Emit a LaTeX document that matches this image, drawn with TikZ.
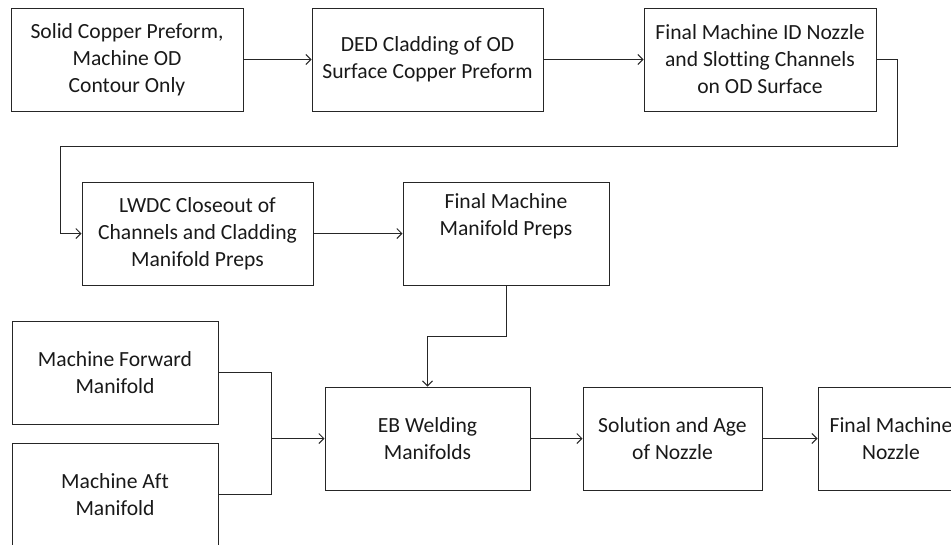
\documentclass[tikz,border=0pt]{standalone}
\usepackage{fontspec}
\setmainfont{Carlito}[Ligatures=NoCommon]
\usetikzlibrary{arrows.meta}
\begin{document}
\begin{tikzpicture}[x=1pt,y=-1pt,
  box/.style={draw=black!85,line width=1pt,inner sep=0pt,align=center,
    font=\fontsize{21.6}{27}\selectfont,text=black!90},
  conn/.style={draw=black!85,line width=1pt},
  arr/.style={conn,-{Straight Barb[length=5pt,width=10pt,line width=1pt]}}]
\useasboundingbox (0,0) rectangle (951,544);
\clip (0,0) rectangle (951,544);
% boxes: (left,top) to (right,bottom)
\node[box,minimum width=232pt,minimum height=103pt] (b1) at (127,59.5) {Solid Copper Preform,\\Machine OD\\Contour Only};
\node[box,minimum width=231pt,minimum height=103pt] (b2) at (427.5,59.5) {DED Cladding of OD\\Surface Copper Preform};
\node[box,minimum width=232pt,minimum height=103pt] (b3) at (760,59.5) {Final Machine ID Nozzle\\and Slotting Channels\\on OD Surface};
\node[box,minimum width=231pt,minimum height=103pt] (b4) at (197.5,233.5) {LWDC Closeout of\\Channels and Cladding\\Manifold Preps};
\node[box,minimum width=206pt,minimum height=103pt,text depth=38pt] (b5) at (506,233.5) {Final Machine\\Manifold Preps};
\node[box,minimum width=206pt,minimum height=103pt] (fwd) at (115,372.5) {Machine Forward\\Manifold};
\node[box,minimum width=206pt,minimum height=103pt] (aft) at (115,494.5) {Machine Aft\\Manifold};
\node[box,minimum width=205pt,minimum height=103pt] (eb) at (427.5,438.5) {EB Welding\\Manifolds};
\node[box,minimum width=179pt,minimum height=103pt] (sol) at (672.5,438.5) {Solution and Age\\of Nozzle};
\node[box,minimum width=146pt,minimum height=103pt] (fin) at (891,438.5) {Final Machine\\Nozzle};
% connectors
\coordinate (c1) at (897,146);
\coordinate (c2) at (60,146);
\coordinate (j) at (271,438.5);
\draw[arr] (b1) -- (b2);
\draw[arr] (b2) -- (b3);
\draw[arr] (b3.east) -| (c1) -- (c2) |- (b4.west);
\draw[arr] (b4) -- (b5);
\draw[arr] (b5.south) -- ++(0,51) -| (eb.north);
\draw[conn] (fwd.east) -| (j);
\draw[conn] (aft.east) -| (j);
\draw[arr] (j) -- (eb.west);
\draw[arr] (eb) -- (sol);
\draw[arr] (sol) -- (fin);
\end{tikzpicture}
\end{document}
